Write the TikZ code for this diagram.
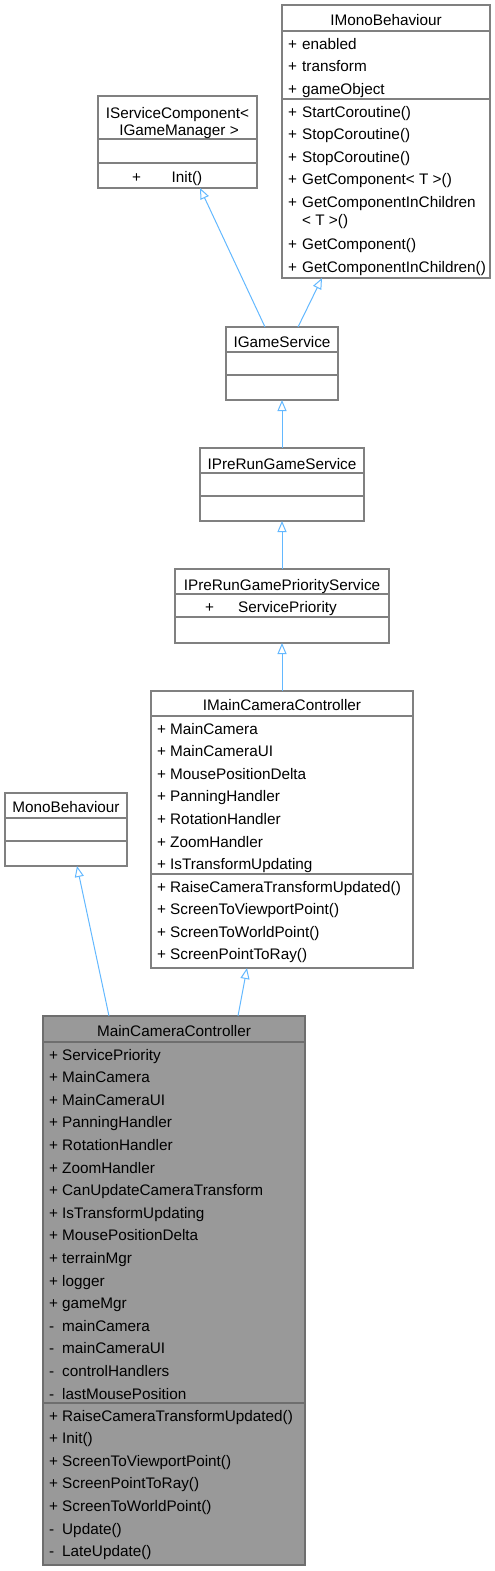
\documentclass[tikz,border=0pt]{standalone}
\usepackage{fontspec}
\setmainfont{Liberation Sans}
\usetikzlibrary{arrows.meta}
\definecolor{edgeblue}{HTML}{63B8FF}
\definecolor{boxline}{HTML}{808080}
\definecolor{mainfill}{HTML}{999999}
\definecolor{mainline}{HTML}{6E6E6E}
\begin{document}
\begin{tikzpicture}[x=1pt,y=-1pt,
  box/.style={draw=boxline, line width=1.2pt, fill=white, inner sep=0pt, outer sep=0pt},
  mainbox/.style={box, draw=mainline, fill=mainfill},
  sepline/.style={draw=boxline, line width=1.2pt},
  mainsep/.style={draw=mainline, line width=1.2pt},
  txt/.style={anchor=base west, inner sep=0pt, font=\fontsize{15.3}{18}\selectfont},
  ttl/.style={anchor=base, inner sep=0pt, font=\fontsize{15.3}{18}\selectfont},
  inh/.style={draw=edgeblue, line width=1pt, -{Triangle[open, length=11pt, width=9pt, line width=1pt]}}
]
\useasboundingbox (0,0) rectangle (495,1571);

% ---------- boxes ----------
\node[box, minimum width=159pt, minimum height=92pt] (isc) at (177.5,142) {};
\node[box, minimum width=208pt, minimum height=273pt] (imb) at (386,141.5) {};
\node[box, minimum width=112pt, minimum height=73pt] (igs) at (282,363.5) {};
\node[box, minimum width=164pt, minimum height=73pt] (iprgs) at (282,484.5) {};
\node[box, minimum width=214pt, minimum height=74pt] (iprgps) at (282,606) {};
\node[box, minimum width=262pt, minimum height=277pt] (imcc) at (282,829.5) {};
\node[box, minimum width=122pt, minimum height=73pt] (mb) at (66,829.5) {};
\node[mainbox, minimum width=262pt, minimum height=549pt] (mcc) at (174,1290.5) {};

% ---------- separators ----------
\draw[sepline] (98,139) -- (257,139) (98,163) -- (257,163);
\draw[sepline] (282,31) -- (490,31) (282,99) -- (490,99);
\draw[sepline] (226,352) -- (338,352) (226,375) -- (338,375);
\draw[sepline] (200,473) -- (364,473) (200,496) -- (364,496);
\draw[sepline] (175,594) -- (389,594) (175,617) -- (389,617);
\draw[sepline] (151,716) -- (413,716) (151,874) -- (413,874);
\draw[sepline] (5,818) -- (127,818) (5,841) -- (127,841);
\draw[mainsep] (43,1042) -- (305,1042) (43,1403) -- (305,1403);

% ---------- titles ----------
\node[ttl] (isc-t1) at (177.5,118.5) {IServiceComponent<};
\node[ttl] (isc-t2) at (179,135.5) {IGameManager >};
\node[ttl] (imb-t) at (386,25.5) {IMonoBehaviour};
\node[ttl] (igs-t) at (282,347) {IGameService};
\node[ttl] (iprgs-t) at (282,469) {IPreRunGameService};
\node[ttl] (iprgps-t) at (282,590) {IPreRunGamePriorityService};
\node[ttl] (imcc-t) at (282,710.5) {IMainCameraController};
\node[ttl] (mb-t) at (66,812) {MonoBehaviour};
\node[ttl] (mcc-t) at (174,1036.5) {MainCameraController};

% ---------- members ----------
\node[txt] (isc-p) at (132,182) {+};
\node[txt] (isc-m) at (171.5,182) {Init()};

\node[txt] (iprgps-p) at (205,612) {+};
\node[txt] (iprgps-m) at (238,612) {ServicePriority};

\foreach \s/\t [count=\i from 0] in {+/enabled,+/transform,+/gameObject}{
  \node[txt] (imb-ap\i) at (288,{49+22.6*\i}) {\s};
  \node[txt] (imb-a\i) at (302,{49+22.6*\i}) {\t};
}
\foreach \y/\t [count=\i from 0] in {117/StartCoroutine(),139.6/StopCoroutine(),162.2/StopCoroutine(),184.8/GetComponent< T >(),207.4/GetComponentInChildren,249.5/GetComponent(),272.1/GetComponentInChildren()}{
  \node[txt] (imb-mp\i) at (288,\y) {+};
  \node[txt] (imb-m\i) at (302,\y) {\t};
}
\node[txt] (imb-m4b) at (302,225.5) {< T >()};

\foreach \t [count=\i from 0] in {MainCamera,MainCameraUI,MousePositionDelta,PanningHandler,RotationHandler,ZoomHandler,IsTransformUpdating}{
  \node[txt] (imcc-ap\i) at (157,{734+22.6*\i}) {+};
  \node[txt] (imcc-a\i) at (170,{734+22.6*\i}) {\t};
}
\foreach \t [count=\i from 0] in {RaiseCameraTransformUpdated(),ScreenToViewportPoint(),ScreenToWorldPoint(),ScreenPointToRay()}{
  \node[txt] (imcc-mp\i) at (157,{892+22.6*\i}) {+};
  \node[txt] (imcc-m\i) at (170,{892+22.6*\i}) {\t};
}

\foreach \s/\t [count=\i from 0] in {+/ServicePriority,+/MainCamera,+/MainCameraUI,+/PanningHandler,+/RotationHandler,+/ZoomHandler,+/CanUpdateCameraTransform,+/IsTransformUpdating,+/MousePositionDelta,+/terrainMgr,+/logger,+/gameMgr,-/mainCamera,-/mainCameraUI,-/controlHandlers,-/lastMousePosition}{
  \node[txt] (mcc-ap\i) at (49,{1060+22.6*\i}) {\s};
  \node[txt] (mcc-a\i) at (62,{1060+22.6*\i}) {\t};
}
\foreach \s/\t [count=\i from 0] in {+/RaiseCameraTransformUpdated(),+/Init(),+/ScreenToViewportPoint(),+/ScreenPointToRay(),+/ScreenToWorldPoint(),-/Update(),-/LateUpdate()}{
  \node[txt] (mcc-mp\i) at (49,{1421+22.6*\i}) {\s};
  \node[txt] (mcc-m\i) at (62,{1421+22.6*\i}) {\t};
}

% ---------- inheritance ----------
\draw[inh] ([xshift=-17pt]igs.north) -- ([xshift=22.5pt]isc.south);
\draw[inh] ([xshift=16pt]igs.north) -- ([xshift=-64pt]imb.south);
\draw[inh] (iprgs.north) -- (igs.south);
\draw[inh] (iprgps.north) -- (iprgs.south);
\draw[inh] (imcc.north) -- (iprgps.south);
\draw[inh] ([xshift=-65pt]mcc.north) -- ([xshift=11pt]mb.south);
\draw[inh] ([xshift=64pt]mcc.north) -- ([xshift=-35pt]imcc.south);
\end{tikzpicture}
\end{document}
